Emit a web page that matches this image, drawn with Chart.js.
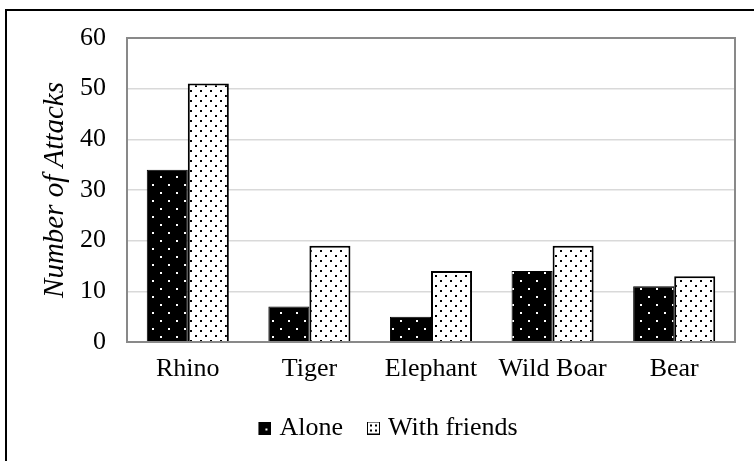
<!DOCTYPE html>
<html lang="en">
<head>
  <meta charset="utf-8">
  <title>Number of Attacks</title>
  <script src="https://cdn.jsdelivr.net/npm/chart.js@4.4.1/dist/chart.umd.min.js"></script>
  <style>
    html, body { margin: 0; padding: 0; background: #fff; }
    #wrap { position: relative; width: 754px; height: 461px; }
    #frame { position: absolute; left: 5px; top: 9px; right: -2px; bottom: -2px;
             border-left: 2px solid #000; border-top: 2px solid #000; pointer-events: none; }
  </style>
</head>
<body>
  <div id="wrap">
    <canvas id="attacksChart" width="754" height="461"></canvas>
    <div id="frame"></div>
  </div>
  <script>
    const animals = ['Rhino', 'Tiger', 'Elephant', 'Wild Boar', 'Bear'];
    const alone = [34, 7, 5, 14, 11];
    const withFriends = [51, 19, 14, 19, 13];
    const yTicks = [0, 10, 20, 30, 40, 50, 60];

    const serif = 'Liberation Serif, Times New Roman, serif';

    // dotted fills like the Excel pattern fills
    function dotPattern(bg, dot, step, size) {
      const c = document.createElement('canvas');
      c.width = step * 2; c.height = step * 2;
      const g = c.getContext('2d');
      g.fillStyle = bg;
      g.fillRect(0, 0, c.width, c.height);
      g.fillStyle = dot;
      g.fillRect(0, 0, size, size);
      g.fillRect(step, step, size, size);
      return g.createPattern(c, 'repeat');
    }

    // legend swatch, shifted right inside a wider canvas to tighten the gap to the text
    function legendBox(fill, dot, dots) {
      const shift = 5;
      const c = document.createElement('canvas');
      c.width = 13 + shift * 2; c.height = 13;
      const g = c.getContext('2d');
      const x0 = shift * 2;
      g.fillStyle = '#000';
      g.fillRect(x0, 0, 13, 13);
      g.fillStyle = fill;
      g.fillRect(x0 + 1, 1, 11, 11);
      g.fillStyle = dot;
      dots.forEach(p => g.fillRect(x0 + p[0], p[1], 2, 2));
      return c;
    }

    const alonePattern = dotPattern('#000', '#fff', 8, 2);
    const friendsPattern = dotPattern('#fff', '#000', 5, 2);

    const plotBorder = {
      id: 'plotBorder',
      afterDatasetsDraw(chart) {
        const a = chart.chartArea;
        const ctx = chart.ctx;
        ctx.save();
        ctx.strokeStyle = '#898989';
        ctx.lineWidth = 2;
        ctx.strokeRect(a.left, a.top, a.right - a.left, a.bottom - a.top);
        ctx.restore();
      }
    };

    const ctx = document.getElementById('attacksChart').getContext('2d');
    new Chart(ctx, {
      type: 'bar',
      data: {
        labels: animals,
        datasets: [{
          label: 'Alone',
          data: alone,
          backgroundColor: alonePattern,
          borderColor: '#000',
          borderWidth: 1,
          pointStyle: legendBox('#000', '#fff', [[7, 7]])
        }, {
          label: 'With friends',
          data: withFriends,
          backgroundColor: friendsPattern,
          borderColor: '#000',
          borderWidth: 2,
          pointStyle: legendBox('#fff', '#000', [[3, 3], [8, 3], [3, 8], [8, 8]])
        }]
      },
      options: {
        responsive: false,
        animation: false,
        layout: { padding: { top: 38, right: 19, left: 36, bottom: 10 } },
        datasets: { bar: { barPercentage: 1, categoryPercentage: 0.675 } },
        scales: {
          x: {
            grid: { display: false, drawTicks: false },
            border: { display: false },
            ticks: { color: '#000', padding: 12, font: { family: serif, size: 26 } },
            afterFit(scale) {
              const legendH = scale.chart.legend ? scale.chart.legend.height : 50;
              scale.height = 461 - 10 - legendH - 342;
            }
          },
          y: {
            min: 0,
            max: 60,
            afterBuildTicks(scale) { scale.ticks = yTicks.map(v => ({ value: v })); },
            grid: { color: '#d9d9d9', lineWidth: 1.5, drawTicks: false },
            border: { display: false },
            ticks: { color: '#000', padding: 21, font: { family: serif, size: 26 } },
            title: {
              display: true,
              text: 'Number of Attacks',
              color: '#000',
              padding: { top: 2, bottom: 0 },
              font: { family: serif, size: 29, style: 'italic' }
            },
            afterFit(scale) { scale.width = 91; }
          }
        },
        plugins: {
          legend: {
            position: 'bottom',
            labels: {
              color: '#000',
              usePointStyle: true,
              boxWidth: 13,
              boxHeight: 13,
              padding: 19,
              font: { family: serif, size: 26 }
            }
          },
          tooltip: { enabled: false }
        }
      },
      plugins: [plotBorder]
    });
  </script>
</body>
</html>
